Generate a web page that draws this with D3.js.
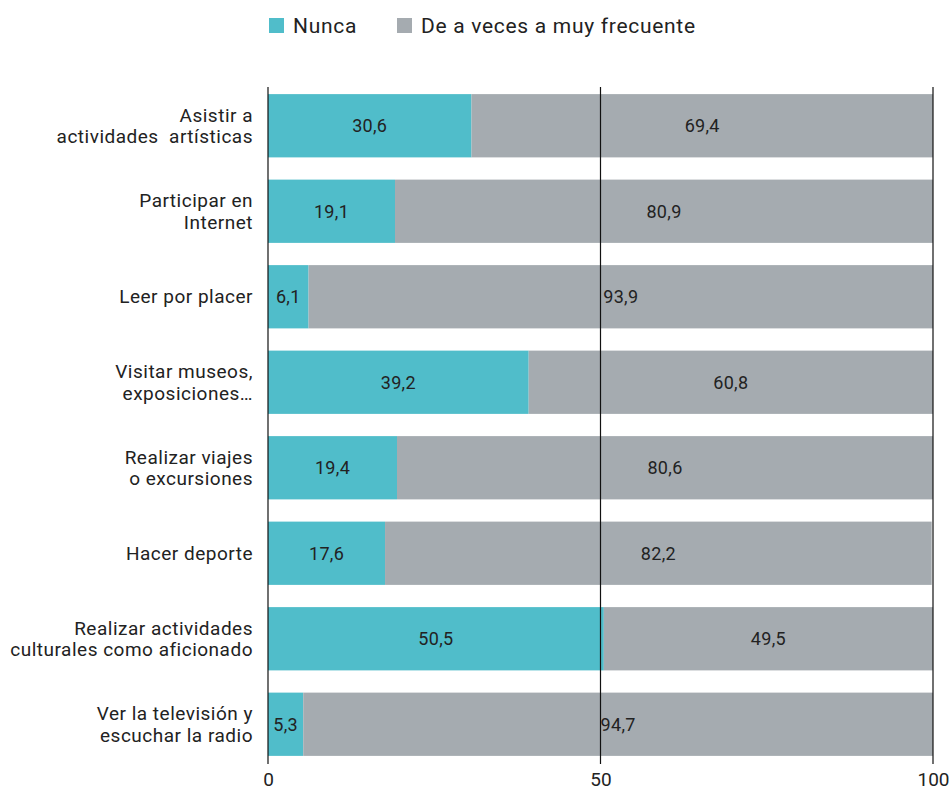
<!DOCTYPE html>
<html><head><meta charset="utf-8">
<script src="https://cdn.jsdelivr.net/npm/d3@7"></script>
<style>body{margin:0;background:#fff}svg text{font-family:Roboto,"DejaVu Sans",sans-serif;fill:#222;white-space:pre}</style>
</head><body><svg id="c" width="949" height="795"></svg>
<script>
const categories = [
  ["Asistir a", "actividades  artísticas"],
  ["Participar en", "Internet"],
  ["Leer por placer"],
  ["Visitar museos,", "exposiciones…"],
  ["Realizar viajes", "o excursiones"],
  ["Hacer deporte"],
  ["Realizar actividades", "culturales como aficionado"],
  ["Ver la televisión y", "escuchar la radio"]
];
const nunca = [30.6, 19.1, 6.1, 39.2, 19.4, 17.6, 50.5, 5.3];
const frecuente = [69.4, 80.9, 93.9, 60.8, 80.6, 82.2, 49.5, 94.7];
const seriesNames = ["Nunca", "De a veces a muy frecuente"];
const colors = ["#50bdca", "#a5abb0"];
const ticks = [0, 50, 100];

const svg = d3.select("#c");
const x = d3.scaleLinear().domain([0, 100]).range([268, 933]);
const y = d3.scaleBand().domain(d3.range(categories.length)).range([83, 767]).paddingInner(0.26).paddingOuter(0.13);

const rows = categories.map((c, i) => ({i, vals: [nunca[i], frecuente[i]]}));
const g = svg.append("g");
rows.forEach(r => {
  let acc = 0;
  r.vals.forEach((v, k) => {
    g.append("rect").attr("x", x(acc)).attr("y", y(r.i)).attr("width", x(acc + v) - x(acc)).attr("height", y.bandwidth()).attr("fill", colors[k]);
    acc += v;
  });
});

// vertical grid lines
svg.append("g").selectAll("line").data(ticks).join("line")
  .attr("x1", d => x(d)).attr("x2", d => x(d)).attr("y1", 87).attr("y2", 764)
  .attr("stroke", "#111").attr("stroke-width", 1.2);

// value labels
rows.forEach(r => {
  let acc = 0;
  r.vals.forEach((v, k) => {
    g.append("text").attr("x", x(acc + v / 2)).attr("y", y(r.i) + y.bandwidth() / 2).attr("dy", "0.35em")
      .attr("text-anchor", "middle").attr("font-size", 18).attr("letter-spacing", 0.3).text(d3.format(".1f")(v).replace(".", ","));
    acc += v;
  });
});

// category labels
const lab = svg.append("g");
categories.forEach((lines, i) => {
  const cy = y(i) + y.bandwidth() / 2;
  const t = lab.append("text").attr("text-anchor", "end").attr("font-size", 19).attr("letter-spacing", 0.5);
  lines.forEach((l, j) => {
    t.append("tspan").attr("x", 253).attr("y", cy + (j - (lines.length - 1) / 2) * 21.5).attr("dy", "0.35em").text(l);
  });
});

// x axis tick labels
const axis = d3.axisBottom(x).tickValues(ticks).tickSize(0).tickPadding(0).tickFormat(d3.format("d"));
const ag = svg.append("g").attr("transform", "translate(0,772)").call(axis);
ag.select(".domain").remove();
ag.selectAll("text").attr("font-size", 19).attr("fill", "#222").style("font-family", "Roboto");

// legend
const leg = svg.append("g");
const legX = [269, 397];
seriesNames.forEach((n, k) => {
  leg.append("rect").attr("x", legX[k]).attr("y", 18).attr("width", 15).attr("height", 15).attr("fill", colors[k]);
  leg.append("text").attr("x", legX[k] + 24).attr("y", 25.5).attr("dy", "0.35em").attr("font-size", 21).attr("letter-spacing", 0.7).text(n);
});
</script></body></html>
